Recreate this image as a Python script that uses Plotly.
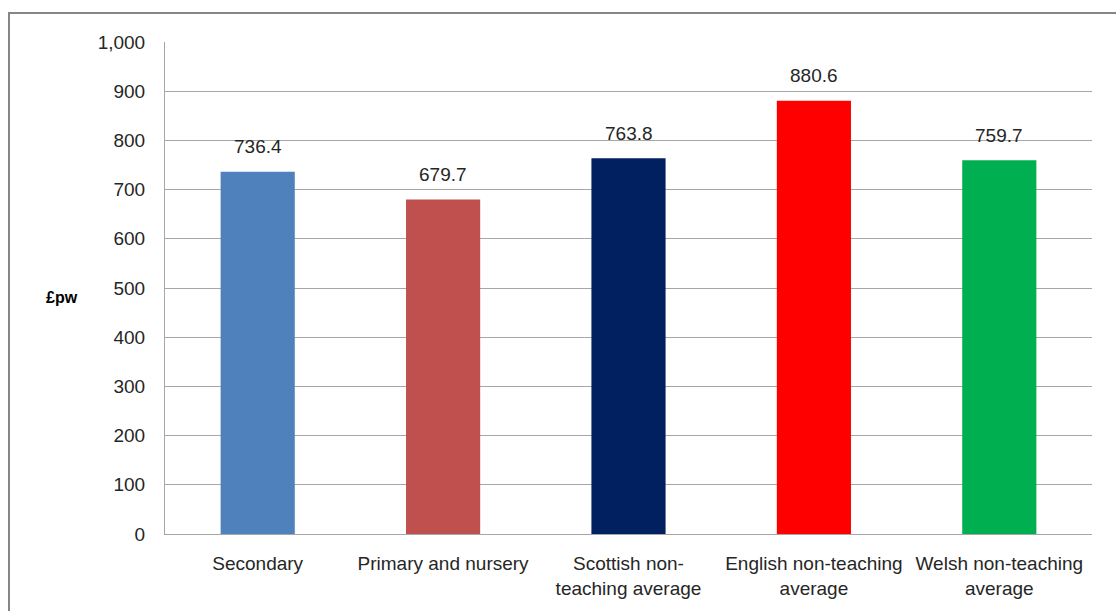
import plotly.graph_objects as go

categories = ["Secondary", "Primary and nursery", "Scottish non-<br>teaching average",
              "English non-teaching<br>average", "Welsh non-teaching<br>average"]
values = [736.4, 679.7, 763.8, 880.6, 759.7]
colors = ["#4F81BD", "#C0504D", "#002060", "#FF0000", "#00B050"]
y_ticks = [0, 100, 200, 300, 400, 500, 600, 700, 800, 900, 1000]
y_tick_labels = ["0", "100", "200", "300", "400", "500", "600", "700", "800", "900", "1,000"]

FONT = "Liberation Sans"
FS = 19
W, H = 1116, 611
L, R, T, B = 165, 24, 42, 77
pw, ph = W - L - R, H - T - B

fig = go.Figure()
fig.add_trace(go.Bar(x=categories, y=values, marker_color=colors, marker_line_width=0,
                     width=0.4, hoverinfo="x+y"))

for c, v in zip(categories, values):
    fig.add_annotation(x=c, y=v, text=f"{v:.1f}", showarrow=False, yanchor="middle",
                       yshift=25, font=dict(family=FONT, size=FS, color="#262626"))

fig.add_annotation(xref="paper", yref="paper", x=(62 - L) / pw, y=(H - B - 297) / ph,
                   text="<b>£pw</b>", showarrow=False, xanchor="center", yanchor="middle",
                   font=dict(family=FONT, size=16, color="#000000"))

fig.add_shape(type="rect", xref="paper", yref="paper",
              x0=(9 - L) / pw, x1=(1125 - L) / pw,
              y0=(H - B - 620) / ph, y1=(H - B - 13) / ph,
              line=dict(color="#868686", width=2), fillcolor="rgba(0,0,0,0)", layer="below")

fig.update_layout(
    width=W, height=H, margin=dict(l=L, r=R, t=T, b=B),
    paper_bgcolor="white", plot_bgcolor="white", showlegend=False,
    font=dict(family=FONT, size=FS, color="#262626"),
    bargap=0.6,
)
fig.update_xaxes(showline=True, linecolor="#A6A6A6", linewidth=1, showgrid=False,
                 ticks="", ticklabelstandoff=12, tickfont=dict(size=FS))
fig.update_yaxes(range=[0, 1000], tickvals=y_ticks, ticktext=y_tick_labels,
                 showgrid=True, gridcolor="#A6A6A6", gridwidth=1,
                 showline=True, linecolor="#A6A6A6", linewidth=1, zeroline=False,
                 ticks="", ticklabelstandoff=15, tickfont=dict(size=FS))

fig.write_html("out.html")
